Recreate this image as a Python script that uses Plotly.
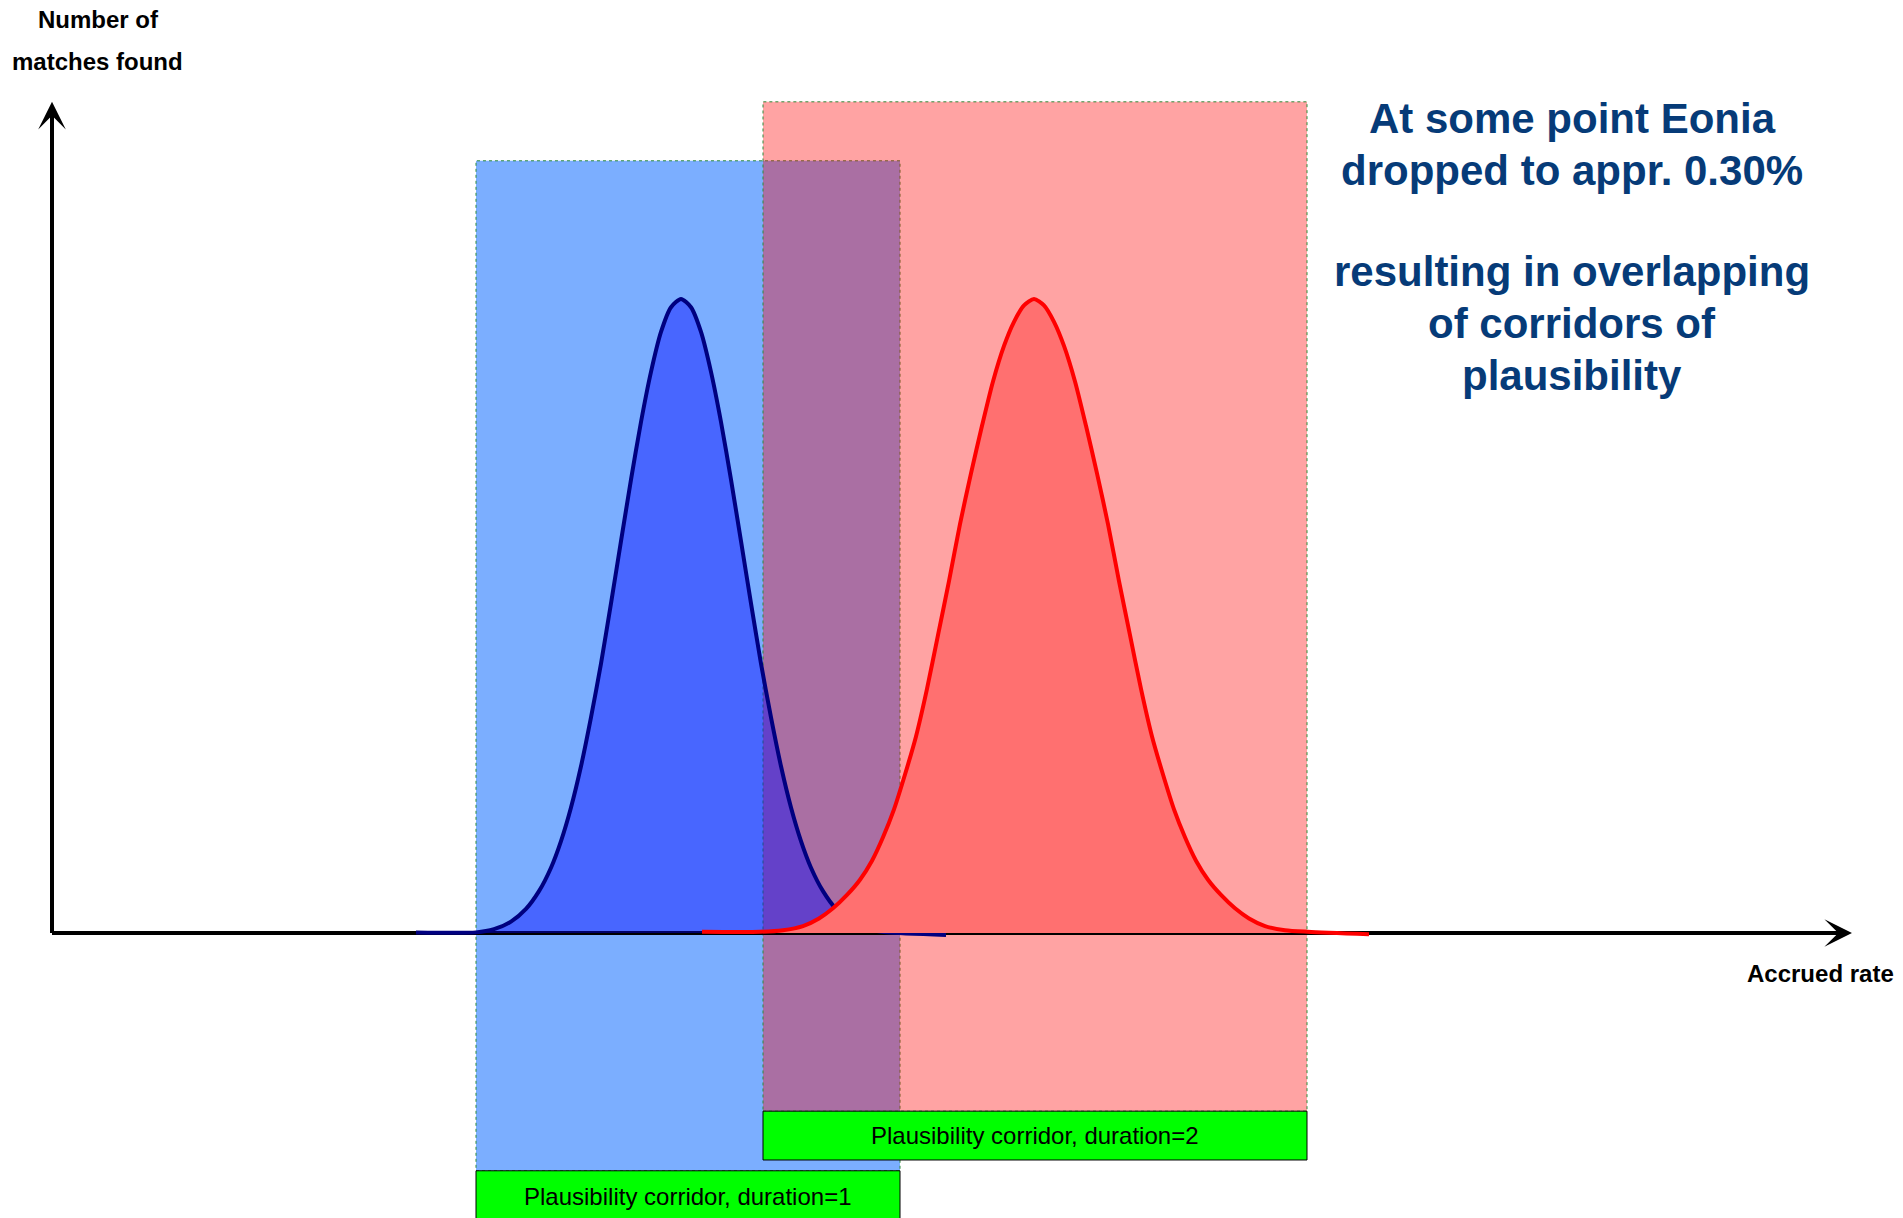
import plotly.graph_objects as go

FONT = "Liberation Sans, Arial, Helvetica, sans-serif"

# Distribution of matches found along the accrued rate, duration=1
dur1_rate = [3.64, 4.24, 4.42, 4.59, 4.74, 4.87, 4.99, 5.09, 5.19, 5.29, 5.39, 5.49, 5.59,
             5.69, 5.79, 5.89, 5.99, 6.09, 6.19, 6.29, 6.39, 6.49, 6.59, 6.69, 6.79, 6.89,
             6.99, 7.09, 7.19, 7.29, 7.39, 7.49, 7.59, 7.71, 7.84, 7.99, 8.16, 8.34, 8.94]
dur1_matches = [0.1, 0.1, 0.6, 1.8, 3.8, 6.6, 10.3, 14.5, 19.8, 26.3, 34.0, 42.5, 52.0,
                61.8, 71.5, 80.6, 88.5, 94.8, 98.7, 100.0, 98.7, 94.8, 88.5, 80.6, 71.5, 61.8,
                52.0, 42.5, 34.0, 26.3, 19.8, 14.5, 10.3, 6.6, 3.8, 1.8, 0.6, 0.1, -0.3]

# Distribution of matches found along the accrued rate, duration=2
dur2_rate = [6.50, 7.08, 7.31, 7.51, 7.67, 7.81, 7.95, 8.08, 8.20, 8.31, 8.42, 8.53, 8.64,
             8.75, 8.86, 8.97, 9.08, 9.19, 9.30, 9.41, 9.52, 9.62, 9.72, 9.82, 9.92, 10.02,
             10.12, 10.23, 10.34, 10.45, 10.56, 10.67, 10.78, 10.89, 11.00, 11.11, 11.22,
             11.33, 11.44, 11.56, 11.69, 11.83, 11.97, 12.13, 12.33, 12.56, 13.17]
dur2_matches = [0.2, 0.2, 0.45, 1.1, 2.3, 3.9, 6.0, 8.4, 11.4, 15.1, 19.5, 25.0, 31.0,
                38.5, 47.0, 55.5, 64.5, 72.5, 80.0, 87.0, 92.6, 96.4, 99.0, 100.0, 99.0, 96.4,
                92.6, 87.0, 80.0, 72.5, 64.5, 55.5, 47.0, 38.5, 31.0, 25.0, 19.5,
                15.1, 11.4, 8.4, 6.0, 3.9, 2.3, 1.1, 0.45, 0.2, -0.2]

# Plausibility corridors on the rate axis and the label band below each one
corridor_names = ["Plausibility corridor, duration=1", "Plausibility corridor, duration=2"]
corridor_low = [4.24, 7.11]
corridor_high = [8.48, 12.55]
corridor_top = [121.8, 131.1]
corridor_bottom = [-37.5, -28.1]
label_bottom = [-50.0, -35.8]
label_text_y = [-41.6, -32.0]
corridor_fill = ["#7BAEFF", "rgba(255,0,0,0.36)"]

# Axis extents
rate_axis_end = 18.0
matches_axis_end = 131.1

note_lines = [
    "At some point Eonia",
    "dropped to appr. 0.30%",
    "resulting in overlapping",
    "of corridors of",
    "plausibility",
]
note_y = [0.9023, 0.8604, 0.7767, 0.7348, 0.6921]

fig = go.Figure()

# Axis lines (arrowheads are added as annotations)
fig.add_trace(go.Scatter(x=[0, rate_axis_end - 0.3], y=[0, 0], mode="lines",
                         line=dict(color="black", width=4), hoverinfo="skip"))
fig.add_trace(go.Scatter(x=[0, 0], y=[0, matches_axis_end - 3], mode="lines",
                         line=dict(color="black", width=4), hoverinfo="skip"))

# Bell curves
fig.add_trace(go.Scatter(x=dur1_rate, y=dur1_matches, mode="lines", fill="tozeroy",
                         fillcolor="rgba(0,0,255,0.41)",
                         line=dict(color="#000080", width=4, shape="spline", smoothing=0.7),
                         hoverinfo="skip"))
fig.add_trace(go.Scatter(x=dur2_rate, y=dur2_matches, mode="lines", fill="tozeroy",
                         fillcolor="#FF7070",
                         line=dict(color="#FF0000", width=4, shape="spline", smoothing=0.7),
                         hoverinfo="skip"))

shapes = []
for lo, hi, top, bot, fillc in zip(corridor_low, corridor_high, corridor_top,
                                   corridor_bottom, corridor_fill):
    shapes.append(dict(type="rect", xref="x", yref="y", x0=lo, x1=hi, y0=bot, y1=top,
                       fillcolor=fillc, layer="below",
                       line=dict(color="#2E8B3A", width=1, dash="dot")))

annotations = []
for name, lo, hi, top, bot, ty in zip(corridor_names, corridor_low, corridor_high,
                                      corridor_bottom, label_bottom, label_text_y):
    shapes.append(dict(type="rect", xref="x", yref="y", x0=lo, x1=hi, y0=bot, y1=top,
                       fillcolor="#00FF00", layer="above",
                       line=dict(color="black", width=1)))
    annotations.append(dict(x=(lo + hi) / 2, y=ty, xref="x", yref="y", text=name,
                            xanchor="center", yanchor="middle", showarrow=False,
                            font=dict(family=FONT, size=24, color="black")))

# Arrowheads
annotations.append(dict(x=rate_axis_end, y=0, ax=rate_axis_end - 0.6, ay=0,
                        xref="x", yref="y", axref="x", ayref="y", text="",
                        showarrow=True, arrowhead=3, arrowsize=1.15, arrowwidth=4,
                        arrowcolor="black", standoff=0))
annotations.append(dict(x=0, y=matches_axis_end, ax=0, ay=matches_axis_end - 8,
                        xref="x", yref="y", axref="x", ayref="y", text="",
                        showarrow=True, arrowhead=3, arrowsize=1.15, arrowwidth=4,
                        arrowcolor="black", standoff=0))

# Axis titles
axis_titles = [("Number of", 0.0515, 0.9844), ("matches found", 0.0510, 0.9499),
               ("Accrued rate", 0.9569, 0.2011)]
for txt, xx, yy in axis_titles:
    annotations.append(dict(x=xx, y=yy, xref="paper", yref="paper", text=f"<b>{txt}</b>",
                            xanchor="center", yanchor="middle", showarrow=False,
                            font=dict(family=FONT, size=24, color="black")))

# Commentary
for line, yy in zip(note_lines, note_y):
    annotations.append(dict(x=0.8261, y=yy, xref="paper", yref="paper", text=f"<b>{line}</b>",
                            xanchor="center", yanchor="middle", showarrow=False,
                            font=dict(family=FONT, size=42, color="#063B78")))

fig.update_layout(
    width=1903, height=1218, autosize=False,
    margin=dict(l=0, r=0, t=0, b=0),
    paper_bgcolor="white", plot_bgcolor="white",
    showlegend=False,
    xaxis=dict(range=[-0.52, 18.51], visible=False, fixedrange=True),
    yaxis=dict(range=[-44.95, 147.16], visible=False, fixedrange=True),
    shapes=shapes, annotations=annotations,
)

fig.write_html("out.html", config={"displayModeBar": False})
